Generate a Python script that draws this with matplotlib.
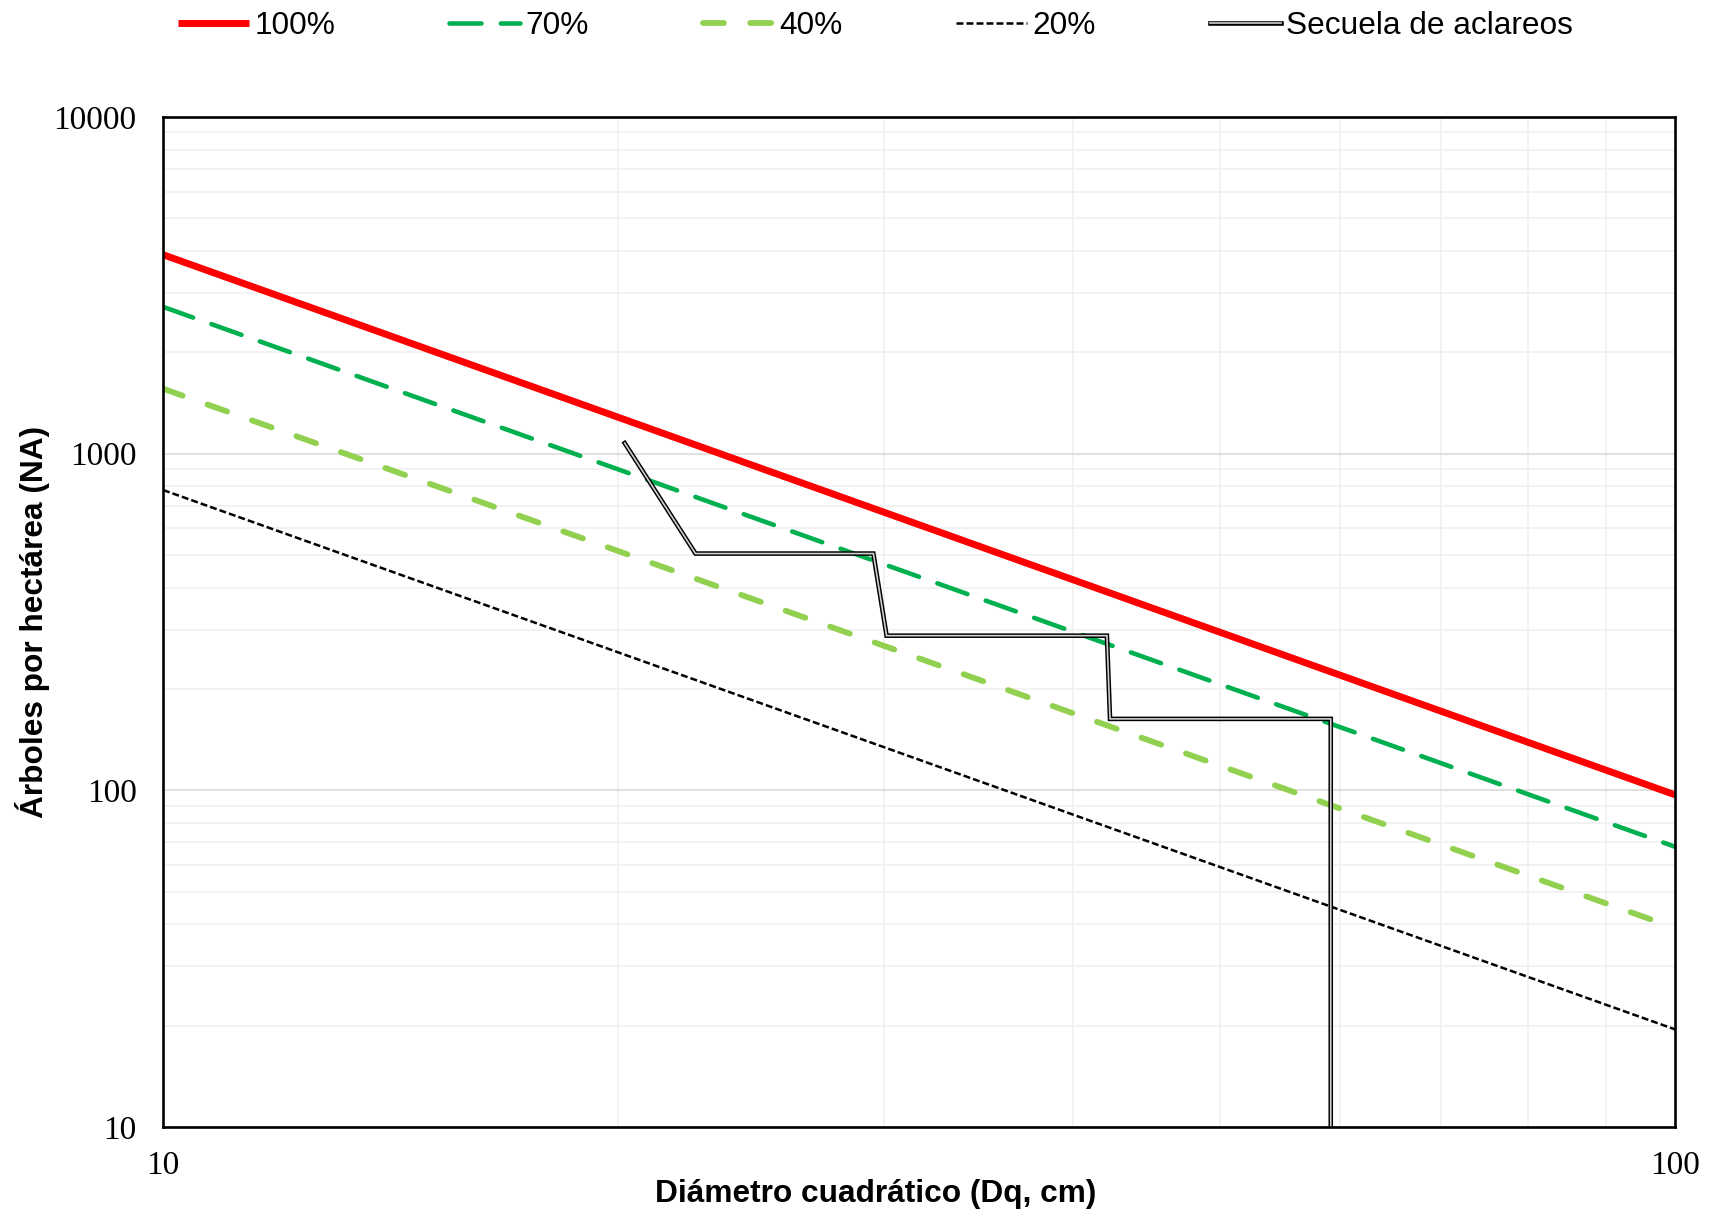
import matplotlib
matplotlib.use("Agg")
import matplotlib.pyplot as plt
from matplotlib.ticker import FixedLocator, FixedFormatter, LogLocator, NullFormatter
from matplotlib.legend_handler import HandlerTuple
from matplotlib.font_manager import FontProperties

# Density management lines (endpoints at Dq = 10 and 100 cm)
D_LIM = [10, 100]
N_100 = [3900, 97]
N_70 = [2730, 68]
N_40 = [1560, 39]
N_20 = [780, 19.5]

# Thinning sequence: Dq (cm) and trees per hectare
THIN_D = [20.2, 22.5, 29.5, 30.1, 42.1, 42.3, 59.2, 59.2]
THIN_N = [1075, 505, 505, 288, 288, 163, 163, 0]

X_TICKS = [10, 100]
X_LABELS = ["10", "100"]
Y_TICKS = [10, 100, 1000, 10000]
Y_LABELS = ["10", "100", "1000", "10000"]

SERIES_LABELS = ["100%", "70%", "40%", "20%", "Secuela de aclareos"]

plt.rcParams["lines.scale_dashes"] = False

W, H = 1720, 1211
fig = plt.figure(figsize=(W / 100, H / 100), dpi=100)
ax = fig.add_axes([163 / W, 1 - 1127 / H, 1512 / W, 1010 / H])
ax.set_xscale("log")
ax.set_yscale("log", nonpositive="clip")
ax.set_xlim(10, 100)
ax.set_ylim(10, 10000)

l100, = ax.plot(D_LIM, N_100, color="#FF0000", lw=5.0, solid_capstyle="butt")
l70, = ax.plot(D_LIM, N_70, color="#00B050", lw=3.3, dashes=(23, 14),
               dash_capstyle="round")
l40, = ax.plot(D_LIM, N_40, color="#92D050", lw=4.2, dashes=(15, 19),
               dash_capstyle="round")
l20, = ax.plot(D_LIM, N_20, color="black", lw=1.8, dashes=(5, 2.2))
outer, = ax.plot(THIN_D, THIN_N, color="black", lw=3.3, solid_joinstyle="miter")
inner, = ax.plot(THIN_D, THIN_N, color="#d0d0d0", lw=1.2, solid_joinstyle="miter")

tick_font = FontProperties(family="Liberation Serif", size=24)
ax.xaxis.set_major_locator(FixedLocator(X_TICKS))
ax.xaxis.set_major_formatter(FixedFormatter(X_LABELS))
ax.yaxis.set_major_locator(FixedLocator(Y_TICKS))
ax.yaxis.set_major_formatter(FixedFormatter(Y_LABELS))
for axis in (ax.xaxis, ax.yaxis):
    axis.set_minor_locator(LogLocator(base=10, subs=range(2, 10), numticks=20))
    axis.set_minor_formatter(NullFormatter())
for lab in ax.get_xticklabels() + ax.get_yticklabels():
    lab.set_fontproperties(tick_font)
ax.tick_params(which="both", length=0)
ax.tick_params(axis="x", pad=17)
ax.tick_params(axis="y", pad=19)

ax.set_axisbelow(True)
ax.grid(which="minor", axis="both", color="#efefef", lw=1.1)
ax.grid(which="major", axis="y", color="#d9d9d9", lw=1.1)
for sp in ax.spines.values():
    sp.set_linewidth(1.9)
    sp.set_color("black")

label_font = dict(family="Liberation Sans", weight="bold", size=22.8)
fig.text(876 / W, 1 - 1194 / H, "Diámetro cuadrático (Dq, cm)",
         ha="center", va="center", **label_font)
fig.text(33 / W, 1 - 622 / H, "Árboles por hectárea (NA)",
         ha="center", va="center", rotation=90, **label_font)

fig.legend(handles=[l100, l70, l40, l20, (outer, inner)], labels=SERIES_LABELS,
           loc="center", bbox_to_anchor=(875.5 / W, 1 - 26.5 / H), ncol=5,
           frameon=False, handlelength=2.24, handletextpad=0.17,
           columnspacing=3.6, borderpad=0, borderaxespad=0,
           prop=FontProperties(family="Liberation Sans", size=22.8),
           handler_map={tuple: HandlerTuple(ndivide=1)})

fig.savefig("out.png", dpi=100)
